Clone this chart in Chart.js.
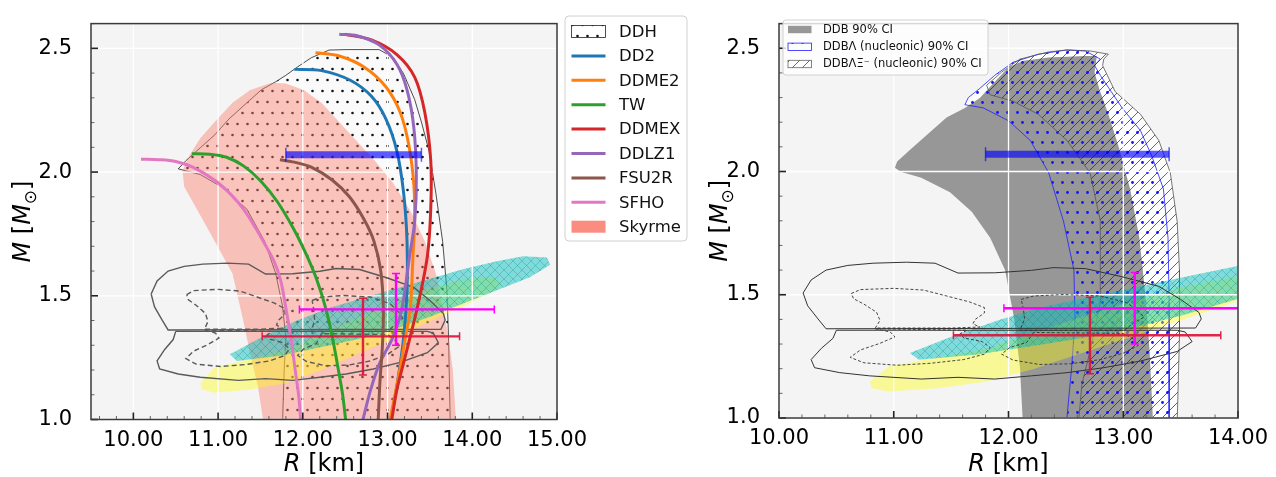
<!DOCTYPE html>
<html>
<head>
<meta charset="utf-8">
<script src="https://cdn.jsdelivr.net/npm/chart.js@4.4.1/dist/chart.umd.min.js"></script>
<style>
  html, body { margin: 0; padding: 0; background: #fff; }
  #wrap { position: relative; width: 1276px; height: 477px; }
  #cl { position: absolute; left: 0; top: 0; }
  #cr { position: absolute; left: 700px; top: 0; }
</style>
</head>
<body>
<div id="wrap">
  <canvas id="cl" width="700" height="477"></canvas>
  <canvas id="cr" width="576" height="477"></canvas>
</div>
<script>
// ---- axes ----
const xTicksLeft = [10, 11, 12, 13, 14, 15];
const xTicksRight = [10, 11, 12, 13, 14];
const yTicks = [1.0, 1.5, 2.0, 2.5];

// ---- EOS mass-radius curves [R km, M Msun] ----
const eosNames = ['DD2', 'DDME2', 'TW', 'DDMEX', 'DDLZ1', 'FSU2R', 'SFHO'];
const eosColors = ['#1f77b4', '#ff7f0e', '#2ca02c', '#d62728', '#9467bd', '#8c564b', '#e377c2'];
const dd2 = [[11.9,2.415],[12.22,2.41],[12.56,2.371],[12.81,2.306],[12.98,2.215],[13.11,2.085],[13.19,1.915],[13.23,1.72],[13.23,1.525],[13.19,1.33],[13.11,1.134],[13.04,1.0]];
const ddme2 = [[12.15,2.482],[12.43,2.469],[12.73,2.423],[12.98,2.345],[13.15,2.241],[13.25,2.111],[13.31,1.95],[13.32,1.8],[13.3,1.66],[13.27,1.45],[13.21,1.33],[13.16,1.23],[13.1,1.12],[13.03,1.0]];
const tw = [[10.69,2.074],[10.9,2.072],[11.1,2.06],[11.3,2.025],[11.5,1.965],[11.7,1.88],[11.9,1.765],[12.05,1.66],[12.17,1.56],[12.27,1.45],[12.35,1.33],[12.42,1.2],[12.47,1.1],[12.505,1.0]];
const ddmex = [[12.5,2.557],[12.81,2.534],[13.11,2.475],[13.32,2.384],[13.44,2.241],[13.51,2.046],[13.51,1.85],[13.47,1.66],[13.35,1.45],[13.19,1.23],[13.11,1.12],[13.05,1.0]];
const ddlz1 = [[12.43,2.557],[12.64,2.551],[12.9,2.514],[13.11,2.436],[13.23,2.332],[13.31,2.18],[13.34,1.98],[13.32,1.8],[13.26,1.66],[13.17,1.45],[13.06,1.33],[12.91,1.23],[12.8,1.12],[12.71,1.0]];
const fsu2r = [[11.73,2.05],[11.9,2.04],[12.1,2.02],[12.35,1.967],[12.55,1.9],[12.72,1.81],[12.84,1.72],[12.92,1.6],[12.95,1.45],[12.94,1.3],[12.91,1.15],[12.89,1.0]];
const sfho = [[10.09,2.052],[10.3,2.05],[10.5,2.043],[10.7,2.02],[10.96,1.967],[11.15,1.91],[11.3,1.85],[11.45,1.77],[11.55,1.71],[11.66,1.64],[11.74,1.56],[11.8,1.45],[11.86,1.33],[11.91,1.2],[11.95,1.1],[11.975,1.0]];
const eosCurves = [dd2, ddme2, tw, ddmex, ddlz1, fsu2r, sfho];

// ---- bands (closed outlines) ----
const ddhBand = [[11.76,0.98],[11.78,1.2],[11.8,1.33],[11.76,1.46],[11.68,1.59],[11.55,1.72],[11.34,1.85],[11.04,1.94],[10.79,1.99],[10.53,2.013],[10.62,2.046],[10.79,2.098],[10.96,2.15],[11.13,2.215],[11.34,2.28],[11.51,2.332],[11.68,2.365],[11.8,2.391],[11.93,2.423],[12.1,2.462],[12.31,2.493],[12.52,2.495],[12.9,2.495],[13.07,2.462],[13.19,2.397],[13.32,2.293],[13.4,2.202],[13.49,2.085],[13.57,1.915],[13.65,1.72],[13.7,1.525],[13.72,1.33],[13.74,0.98]];
const skyrmeBand = [[11.54,0.98],[11.47,1.134],[11.38,1.264],[11.3,1.395],[11.17,1.59],[10.96,1.72],[10.75,1.85],[10.6,1.941],[10.58,2.006],[10.67,2.072],[10.79,2.137],[10.96,2.202],[11.17,2.28],[11.38,2.332],[11.63,2.361],[11.8,2.358],[12.01,2.332],[12.22,2.28],[12.43,2.202],[12.64,2.124],[12.85,2.046],[13.07,1.954],[13.28,1.837],[13.44,1.72],[13.57,1.59],[13.65,1.46],[13.72,1.329],[13.77,1.199],[13.81,0.98]];
const ddbBand = [[12.125,0.98],[12.1,1.204],[12.05,1.402],[11.97,1.6],[11.84,1.731],[11.68,1.837],[11.49,1.916],[11.24,1.975],[11.06,1.999],[11.01,2.015],[11.03,2.041],[11.14,2.087],[11.3,2.153],[11.46,2.219],[11.62,2.258],[11.75,2.298],[11.88,2.364],[12.0,2.423],[12.13,2.449],[12.35,2.462],[12.67,2.469],[12.77,2.469],[12.75,2.403],[12.79,2.337],[12.87,2.232],[12.96,2.1],[13.06,1.929],[13.14,1.731],[13.2,1.468],[13.23,1.27],[13.26,0.98]];
const ddbLBand = [[12.505,0.98],[12.55,1.204],[12.58,1.402],[12.57,1.6],[12.48,1.797],[12.35,1.995],[12.19,2.126],[12.0,2.206],[11.78,2.258],[11.62,2.271],[11.65,2.3],[11.75,2.337],[11.88,2.39],[12.04,2.443],[12.26,2.476],[12.51,2.493],[12.67,2.489],[12.8,2.456],[12.75,2.43],[12.8,2.39],[12.99,2.258],[13.15,2.166],[13.25,2.061],[13.35,1.929],[13.39,1.731],[13.4,1.468],[13.4,1.204],[13.4,0.98]];
const ddbLXiBand = [[12.61,0.98],[12.64,1.138],[12.71,1.27],[12.8,1.468],[12.8,1.6],[12.8,1.8],[12.71,1.995],[12.51,2.126],[12.26,2.232],[12.04,2.285],[11.84,2.311],[11.81,2.35],[11.94,2.403],[12.1,2.456],[12.35,2.485],[12.51,2.493],[12.71,2.489],[12.87,2.476],[12.83,2.456],[12.82,2.43],[12.93,2.324],[13.15,2.232],[13.31,2.126],[13.41,1.995],[13.47,1.797],[13.49,1.6],[13.49,1.336],[13.47,0.98]];

// ---- observational regions ----
const cyanBlob = [[11.14,1.264],[11.53,1.335],[11.93,1.4],[12.32,1.452],[12.71,1.491],[13.11,1.53],[13.5,1.569],[13.9,1.608],[14.29,1.64],[14.6,1.66],[14.88,1.655],[14.92,1.625],[14.68,1.575],[14.29,1.522],[13.9,1.47],[13.5,1.415],[12.91,1.345],[12.32,1.3],[11.73,1.258],[11.22,1.236]];
const yellowBlob = [[10.79,1.147],[10.96,1.21],[11.38,1.245],[11.8,1.28],[12.22,1.345],[12.64,1.41],[13.07,1.472],[13.49,1.528],[13.91,1.568],[14.24,1.576],[14.35,1.551],[14.29,1.525],[13.91,1.46],[13.49,1.395],[13.07,1.329],[12.64,1.264],[12.22,1.199],[11.8,1.147],[11.38,1.121],[10.96,1.108],[10.81,1.121]];
const gwUpper = [[10.21,1.507],[10.28,1.56],[10.41,1.6],[10.6,1.619],[10.82,1.628],[11.11,1.632],[11.36,1.628],[11.56,1.588],[11.88,1.589],[12.2,1.599],[12.39,1.61],[12.67,1.606],[12.99,1.573],[13.31,1.534],[13.5,1.481],[13.66,1.428],[13.68,1.402],[13.63,1.365],[10.41,1.362],[10.34,1.402],[10.25,1.455]];
const gwLower = [[10.5,1.356],[10.47,1.323],[10.37,1.283],[10.28,1.237],[10.31,1.204],[10.53,1.184],[10.79,1.171],[11.24,1.158],[11.56,1.165],[11.88,1.158],[12.2,1.171],[12.51,1.184],[12.83,1.204],[13.15,1.231],[13.47,1.27],[13.6,1.31],[13.54,1.349],[13.47,1.356]];
const gwDashLU = [[10.63,1.505],[10.71,1.521],[11.0,1.526],[11.26,1.519],[11.46,1.495],[11.66,1.471],[11.79,1.448],[11.79,1.426],[11.71,1.4],[11.69,1.382],[11.75,1.369],[11.5,1.365],[10.84,1.365],[10.88,1.396],[10.85,1.429],[10.74,1.462],[10.65,1.484]];
const gwDashLL = [[10.84,1.362],[10.97,1.349],[11.01,1.329],[10.88,1.303],[10.71,1.276],[10.62,1.246],[10.74,1.224],[11.03,1.214],[11.32,1.222],[11.61,1.237],[11.79,1.259],[11.84,1.286],[11.77,1.31],[11.61,1.325],[11.58,1.343],[11.64,1.356]];
const gwDashRU = [[12.11,1.481],[12.22,1.495],[12.48,1.501],[12.8,1.495],[13.03,1.468],[13.14,1.431],[13.18,1.409],[13.09,1.386],[13.01,1.356],[12.1,1.356],[12.14,1.402],[12.13,1.442]];
const gwDashRL = [[12.22,1.347],[12.16,1.307],[12.01,1.286],[11.94,1.259],[12.04,1.235],[12.27,1.217],[12.54,1.22],[12.8,1.237],[13.0,1.263],[13.13,1.294],[13.09,1.32],[13.0,1.343]];

// ---- error bars: [low, centre, high] ----
const bandR = [11.8, 13.4];
const bandM = [2.07];
const rileyR = [11.52, 12.71, 13.85];
const rileyM = [1.18, 1.336, 1.49];
const millerR = [11.96, 13.1, 14.26];
const millerM = [1.3, 1.445, 1.59];

const FONT = '"DejaVu Sans", sans-serif';
const pts = (arr) => arr.map(([x, y]) => ({ x, y }));
const closed = (arr) => pts(arr.concat([arr[0]]));

function tile(ctx, w, h, draw) {
  const c = document.createElement('canvas');
  c.width = w; c.height = h;
  draw(c.getContext('2d'));
  return ctx.createPattern(c, 'repeat');
}
function dots(ctx, w, h, spots, r, col, bg) {
  return tile(ctx, w, h, g => {
    if (bg) { g.fillStyle = bg; g.fillRect(0, 0, w, h); }
    g.fillStyle = col;
    spots.forEach(([x, y]) => { g.beginPath(); g.arc(x, y, r, 0, Math.PI * 2); g.fill(); });
  });
}
function slashes(ctx, s, col, lw, both, bg) {
  return tile(ctx, s, s, g => {
    if (bg) { g.fillStyle = bg; g.fillRect(0, 0, s, s); }
    g.strokeStyle = col; g.lineWidth = lw;
    g.beginPath();
    g.moveTo(-1, s + 1); g.lineTo(s + 1, -1);
    g.moveTo(-1, 1); g.lineTo(1, -1);
    g.moveTo(s - 1, s + 1); g.lineTo(s + 1, s - 1);
    if (both) {
      g.moveTo(-1, -1); g.lineTo(s + 1, s + 1);
      g.moveTo(s - 1, -1); g.lineTo(s + 1, 1);
      g.moveTo(-1, s - 1); g.lineTo(1, s + 1);
    }
    g.stroke();
  });
}

function area(arr, fillStyle, border, width) {
  return {
    data: closed(arr), areaFill: fillStyle, showLine: !!border,
    borderColor: border || 'rgba(0,0,0,0)', borderWidth: border ? width : 0,
    pointRadius: 0, tension: 0, fill: false, clip: 0
  };
}
function line(data, color, width, extra) {
  return Object.assign({
    data, showLine: true, borderColor: color, borderWidth: width,
    pointRadius: 0, tension: 0, fill: false, clip: 0
  }, extra || {});
}

function drawGrid(chart) {
  const { ctx, chartArea: a, scales: { x, y } } = chart;
  ctx.save();
  ctx.strokeStyle = '#ffffff';
  ctx.lineWidth = 1.3;
  ctx.beginPath();
  x.ticks.forEach(t => { const p = x.getPixelForValue(t.value); ctx.moveTo(p, a.top); ctx.lineTo(p, a.bottom); });
  y.ticks.forEach(t => { const p = y.getPixelForValue(t.value); ctx.moveTo(a.left, p); ctx.lineTo(a.right, p); });
  ctx.stroke();
  ctx.restore();
}

function rich(ctx, parts, x, y, rot, size) {
  ctx.save();
  ctx.translate(x, y); ctx.rotate(rot);
  ctx.textBaseline = 'alphabetic'; ctx.fillStyle = '#000';
  const fonts = parts.map(([, s]) => s === 'italic' ? `italic ${size}px ${FONT}` : s === 'sub' ? `${Math.round(size * 0.7)}px ${FONT}` : `${size}px ${FONT}`);
  const ws = parts.map(([t], i) => { ctx.font = fonts[i]; return ctx.measureText(t).width; });
  let cx = -ws.reduce((s, v) => s + v, 0) / 2;
  parts.forEach(([t, s], i) => { ctx.font = fonts[i]; ctx.fillText(t, cx, s === 'sub' ? size * 0.24 : 0); cx += ws[i]; });
  ctx.restore();
}

function errorBars(chart) {
  const { ctx, chartArea: a, scales: { x, y } } = chart;
  ctx.save();
  ctx.beginPath(); ctx.rect(a.left, a.top, a.right - a.left, a.bottom - a.top); ctx.clip();
  // max-mass band
  const by = y.getPixelForValue(bandM[0]);
  const bx0 = x.getPixelForValue(bandR[0]), bx1 = x.getPixelForValue(bandR[1]);
  ctx.strokeStyle = 'rgba(0,0,255,0.64)';
  ctx.lineWidth = 7; ctx.lineCap = 'butt';
  ctx.beginPath(); ctx.moveTo(bx0, by); ctx.lineTo(bx1, by); ctx.stroke();
  ctx.lineWidth = 1.5;
  ctx.beginPath();
  ctx.moveTo(bx0, by - 7); ctx.lineTo(bx0, by + 7);
  ctx.moveTo(bx1, by - 7); ctx.lineTo(bx1, by + 7);
  ctx.stroke();
  const cross = (R, M, col) => {
    const xl = x.getPixelForValue(R[0]), xc = x.getPixelForValue(R[1]), xh = x.getPixelForValue(R[2]);
    const yl = y.getPixelForValue(M[0]), yc = y.getPixelForValue(M[1]), yh = y.getPixelForValue(M[2]);
    ctx.strokeStyle = col; ctx.lineWidth = 2.4;
    ctx.beginPath();
    ctx.moveTo(xl, yc); ctx.lineTo(xh, yc);
    ctx.moveTo(xc, yl); ctx.lineTo(xc, yh);
    ctx.stroke();
    ctx.lineWidth = 1.5;
    ctx.beginPath();
    ctx.moveTo(xl, yc - 4); ctx.lineTo(xl, yc + 4);
    ctx.moveTo(xh, yc - 4); ctx.lineTo(xh, yc + 4);
    ctx.moveTo(xc - 4, yl); ctx.lineTo(xc + 4, yl);
    ctx.moveTo(xc - 4, yh); ctx.lineTo(xc + 4, yh);
    ctx.stroke();
  };
  cross(millerR, millerM, '#ff00ff');
  cross(rileyR, rileyM, 'rgba(220,20,60,0.92)');
  ctx.restore();
}

function frameAndTicks(chart) {
  const { ctx, chartArea: a, scales: { x, y } } = chart;
  ctx.save();
  for (let k = Math.ceil(x.min / 0.2 - 1e-6); k * 0.2 <= x.max + 1e-6; k++) {
    const v = k * 0.2, major = Math.abs(v - Math.round(v)) < 1e-6;
    const p = x.getPixelForValue(v);
    ctx.strokeStyle = major ? '#222' : '#666'; ctx.lineWidth = major ? 1.6 : 1;
    ctx.beginPath(); ctx.moveTo(p, a.bottom); ctx.lineTo(p, a.bottom - (major ? 7 : 3.5)); ctx.stroke();
  }
  for (let k = Math.ceil(y.min / 0.1 - 1e-6); k * 0.1 <= y.max + 1e-6; k++) {
    const v = k * 0.1, major = Math.abs(v * 2 - Math.round(v * 2)) < 1e-6;
    const p = y.getPixelForValue(v);
    ctx.strokeStyle = major ? '#222' : '#666'; ctx.lineWidth = major ? 1.6 : 1;
    ctx.beginPath(); ctx.moveTo(a.left, p); ctx.lineTo(a.left + (major ? 7 : 3.5), p); ctx.stroke();
  }
  ctx.strokeStyle = '#3a3a3a'; ctx.lineWidth = 1.5;
  ctx.strokeRect(a.left, a.top, a.right - a.left, a.bottom - a.top);
  ctx.restore();
}

function roundBox(ctx, x, y, w, h, r) {
  ctx.beginPath();
  ctx.moveTo(x + r, y); ctx.lineTo(x + w - r, y); ctx.quadraticCurveTo(x + w, y, x + w, y + r);
  ctx.lineTo(x + w, y + h - r); ctx.quadraticCurveTo(x + w, y + h, x + w - r, y + h);
  ctx.lineTo(x + r, y + h); ctx.quadraticCurveTo(x, y + h, x, y + h - r);
  ctx.lineTo(x, y + r); ctx.quadraticCurveTo(x, y, x + r, y);
  ctx.closePath();
}

const deco = {
  id: 'deco',
  beforeDraw(chart) {
    const { ctx, chartArea: a } = chart;
    ctx.save(); ctx.fillStyle = '#f4f4f4';
    ctx.fillRect(a.left, a.top, a.right - a.left, a.bottom - a.top); ctx.restore();
  },
  beforeDatasetDraw(chart, args) {
    const ds = chart.data.datasets[args.index];
    if (ds.gridFirst) drawGrid(chart);
    if (!ds.areaFill) return;
    const { ctx, chartArea: a } = chart;
    const p = args.meta.data;
    ctx.save();
    ctx.beginPath(); ctx.rect(a.left, a.top, a.right - a.left, a.bottom - a.top); ctx.clip();
    ctx.beginPath();
    p.forEach((e, i) => i ? ctx.lineTo(e.x, e.y) : ctx.moveTo(e.x, e.y));
    ctx.closePath();
    ctx.fillStyle = ds.areaFill; ctx.fill();
    ctx.restore();
  },
  afterDatasetsDraw(chart) { errorBars(chart); },
  afterDraw(chart, args, opts) {
    const { ctx, chartArea: a } = chart;
    frameAndTicks(chart);
    rich(ctx, [['R', 'italic'], [' [km]', 'n']], (a.left + a.right) / 2, 471, 0, 24);
    rich(ctx, [['M', 'italic'], [' [', 'n'], ['M', 'italic'], ['\u2299', 'sub'], [']', 'n']], opts.yTitleX, (a.top + a.bottom) / 2, -Math.PI / 2, 24);
    if (opts.legend === 'left') leftLegend(chart); else rightLegend(chart);
  }
};

let P = {};

function leftLegend(chart) {
  const { ctx, chartArea: a } = chart;
  const bx = a.right + 8, by = 16, bw = 122, bh = 225;
  ctx.save();
  roundBox(ctx, bx, by, bw, bh, 4);
  ctx.fillStyle = 'rgba(255,255,255,0.9)'; ctx.fill();
  ctx.strokeStyle = '#d0d0d0'; ctx.lineWidth = 1; ctx.stroke();
  ctx.font = `16.5px ${FONT}`; ctx.textBaseline = 'middle'; ctx.fillStyle = '#111';
  const sx0 = bx + 6.5, sx1 = bx + 40.5, tx = bx + 54;
  const labels = ['DDH'].concat(eosNames, ['Skyrme']);
  labels.forEach((lab, i) => {
    const yy = 31.5 + i * 24.4;
    if (i === 0) {
      ctx.fillStyle = P.ddhDots; ctx.fillRect(sx0, yy - 6, sx1 - sx0, 12);
      ctx.strokeStyle = '#222'; ctx.lineWidth = 0.8; ctx.strokeRect(sx0, yy - 6, sx1 - sx0, 12);
    } else if (i === labels.length - 1) {
      ctx.fillStyle = 'rgba(250,128,114,0.9)'; ctx.fillRect(sx0, yy - 6, sx1 - sx0, 12);
    } else {
      ctx.strokeStyle = eosColors[i - 1]; ctx.lineWidth = 3;
      ctx.beginPath(); ctx.moveTo(sx0, yy); ctx.lineTo(sx1, yy); ctx.stroke();
    }
    ctx.fillStyle = '#111'; ctx.fillText(lab, tx, yy + 1);
  });
  ctx.restore();
}

function rightLegend(chart) {
  const { ctx, chartArea: a } = chart;
  const bx = a.left + 4, by = 20, bw = 205, bh = 55;
  ctx.save();
  roundBox(ctx, bx, by, bw, bh, 3);
  ctx.fillStyle = 'rgba(255,255,255,0.8)'; ctx.fill();
  ctx.strokeStyle = '#d0d0d0'; ctx.lineWidth = 1; ctx.stroke();
  ctx.font = `11.5px ${FONT}`; ctx.textBaseline = 'middle';
  const sx = bx + 5, sw = 23.5, tx = bx + 40;
  const rows = [29.5, 46.8, 64];
  ctx.fillStyle = 'rgb(151,151,151)'; ctx.fillRect(sx, rows[0] - 3.7, sw, 7.4);
  ctx.fillStyle = P.blueDots; ctx.fillRect(sx, rows[1] - 3.7, sw, 7.4);
  ctx.strokeStyle = '#2020ff'; ctx.lineWidth = 0.8; ctx.strokeRect(sx, rows[1] - 3.7, sw, 7.4);
  ctx.fillStyle = P.hatch; ctx.fillRect(sx, rows[2] - 3.7, sw, 7.4);
  ctx.strokeStyle = '#666'; ctx.strokeRect(sx, rows[2] - 3.7, sw, 7.4);
  ctx.fillStyle = '#111';
  ['DDB 90% CI', 'DDB\u039b (nucleonic) 90% CI', 'DDB\u039b\u039e\u207b (nucleonic) 90% CI']
    .forEach((t, i) => ctx.fillText(t, tx, rows[i] + 0.5));
  ctx.restore();
}

function scales(xmin, xmax, xt, yWidth, xHeight) {
  const tickFont = { family: 'DejaVu Sans', size: 21 };
  return {
    x: {
      type: 'linear', min: xmin, max: xmax, position: 'bottom',
      afterBuildTicks: s => { s.ticks = xt.map(v => ({ value: v })); },
      afterFit: s => { s.height = xHeight; },
      grid: { display: false }, border: { display: false },
      ticks: { font: tickFont, color: '#000', padding: 0, maxRotation: 0, autoSkip: false, callback: v => Number(v).toFixed(2) }
    },
    y: {
      type: 'linear', min: 1.0, max: 2.6,
      afterBuildTicks: s => { s.ticks = yTicks.map(v => ({ value: v })); },
      afterFit: s => { s.width = yWidth; },
      grid: { display: false }, border: { display: false },
      ticks: { font: tickFont, color: '#000', padding: 11, autoSkip: false, callback: v => Number(v).toFixed(1) }
    }
  };
}

function withOrder(list) { return list.map((d, i) => Object.assign(d, { order: -i })); }

// ---- left panel ----
const cl = document.getElementById('cl').getContext('2d');
P.ddhDots = dots(cl, 10, 22, [[2.5, 3], [7.5, 14]], 1.3, '#111', 'rgba(255,255,255,0.55)');
const cyanL = slashes(cl, 9, 'rgba(0,140,140,0.4)', 0.8, true, 'rgba(0,191,191,0.47)');

const leftSets = [
  area(ddhBand, P.ddhDots, '#222', 0.8),
  area(skyrmeBand, 'rgba(250,128,114,0.45)'),
  area(yellowBlob, 'rgba(255,255,0,0.38)'),
  area(cyanBlob, cyanL),
  line(closed(gwUpper), '#5a5a5a', 1.4, { gridFirst: true }),
  line(closed(gwLower), '#5a5a5a', 1.4),
  line(closed(gwDashLU), '#5a5a5a', 1.4, { borderDash: [5, 3] }),
  line(closed(gwDashLL), '#5a5a5a', 1.4, { borderDash: [5, 3] }),
  line(closed(gwDashRU), '#5a5a5a', 1.4, { borderDash: [5, 3] }),
  line(closed(gwDashRL), '#5a5a5a', 1.4, { borderDash: [5, 3] })
].concat(eosCurves.map((c, i) => line(pts(c), eosColors[i], 3, { tension: 0.3, borderCapStyle: 'butt' })));

new Chart(cl, {
  type: 'scatter',
  data: { datasets: withOrder(leftSets) },
  options: {
    responsive: false, animation: false, events: [],
    layout: { padding: { left: 0, right: 143, top: 9, bottom: 0 } },
    scales: scales(9.5, 15, xTicksLeft, 91, 57.5),
    plugins: { legend: { display: false }, tooltip: { enabled: false }, deco: { yTitleX: 30, legend: 'left' } }
  },
  plugins: [deco]
});

// ---- right panel ----
const cr = document.getElementById('cr').getContext('2d');
P.blueDots = dots(cr, 10, 20, [[2.5, 2.5], [7.5, 12.5]], 1.4, 'rgb(20,20,255)', null);
P.hatch = slashes(cr, 10, 'rgba(30,30,30,0.85)', 0.8, false, null);
const cyanR = slashes(cr, 9, 'rgba(0,140,140,0.4)', 0.8, true, 'rgba(0,191,191,0.47)');

const rightSets = [
  area(ddbLXiBand, 'rgba(255,255,255,0.8)'),
  area(ddbLBand, 'rgba(255,255,255,0.8)'),
  area(ddbBand, 'rgb(151,151,151)'),
  area(ddbLBand, P.blueDots, '#2020ff', 0.8),
  area(ddbLXiBand, P.hatch, '#555', 0.8),
  area(yellowBlob, 'rgba(255,255,0,0.38)'),
  area(cyanBlob, cyanR),
  line(closed(gwUpper), '#333', 1.0, { gridFirst: true }),
  line(closed(gwLower), '#333', 1.0),
  line(closed(gwDashLU), '#333', 0.9, { borderDash: [3, 2] }),
  line(closed(gwDashLL), '#333', 0.9, { borderDash: [3, 2] }),
  line(closed(gwDashRU), '#333', 0.9, { borderDash: [3, 2] }),
  line(closed(gwDashRL), '#333', 0.9, { borderDash: [3, 2] })
];

new Chart(cr, {
  type: 'scatter',
  data: { datasets: withOrder(rightSets) },
  options: {
    responsive: false, animation: false, events: [],
    layout: { padding: { left: 0, right: 38, top: 15, bottom: 0 } },
    scales: scales(10, 14, xTicksRight, 79, 59),
    plugins: { legend: { display: false }, tooltip: { enabled: false }, deco: { yTitleX: 27, legend: 'right' } }
  },
  plugins: [deco]
});
</script>
</body>
</html>
